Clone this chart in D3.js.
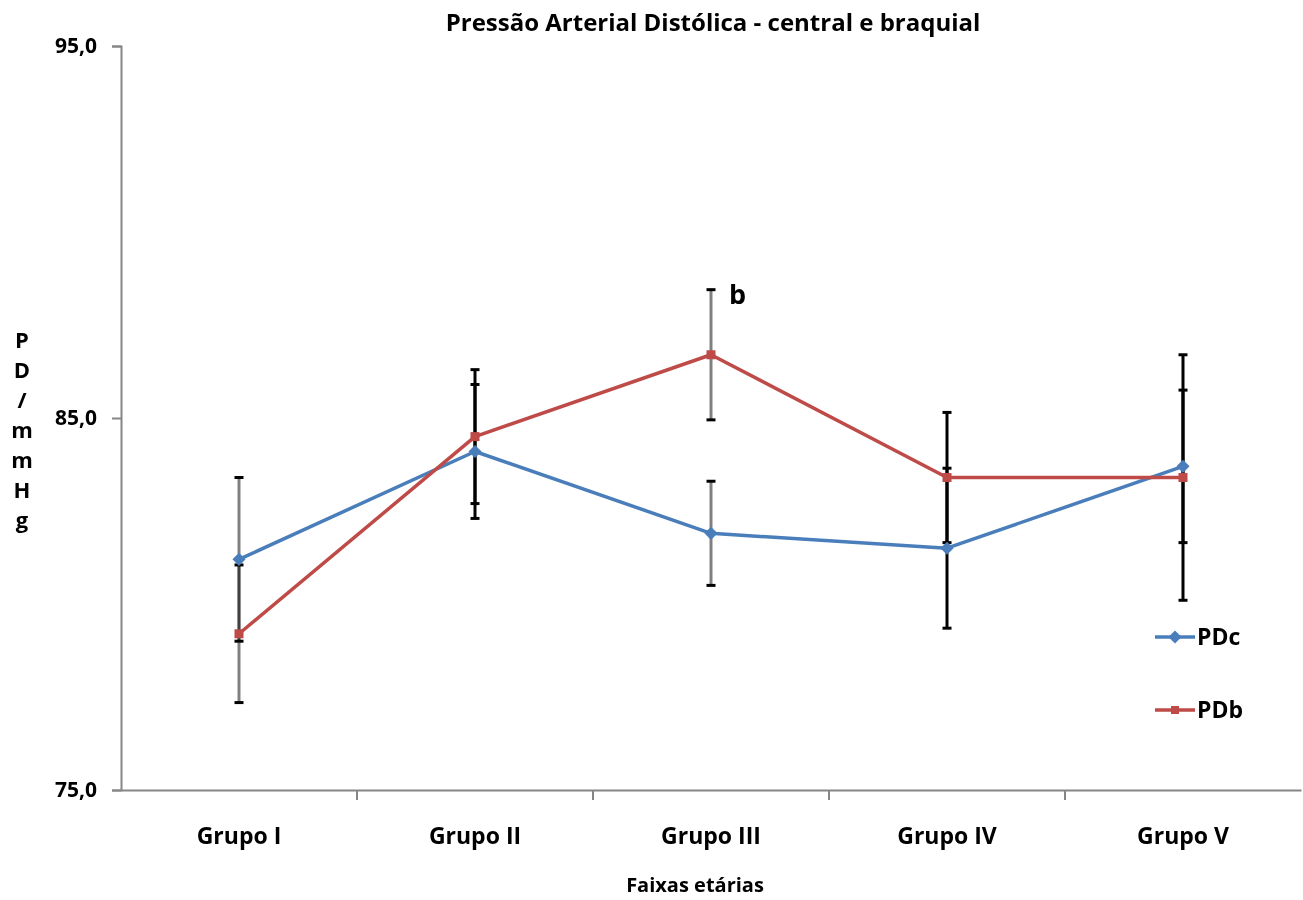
<!DOCTYPE html>
<html>
<head>
<meta charset="utf-8">
<script src="https://cdn.jsdelivr.net/npm/d3@7"></script>
<style>
  body { margin: 0; background: #fff; }
  svg { display: block; font-family: "Open Sans", "Lato", sans-serif; }
</style>
</head>
<body>
<svg id="chart" width="1303" height="900"></svg>
<script>
// Age groups and mean diastolic pressures (mmHg)
const categories = ["Grupo I", "Grupo II", "Grupo III", "Grupo IV", "Grupo V"];
const pdcValues = [81.2, 84.1, 81.9, 81.5, 83.7];
const pdbValues = [79.2, 84.5, 86.7, 83.4, 83.4];
// Error bar half-widths (mmHg)
const pdcErrors = [2.2, 1.8, 1.4, 2.15, 2.05];
const pdbErrors = [1.85, 1.8, 1.75, 1.75, 3.3];
// Error bar colours per group
const pdcErrColors = ["#808080", "#000000", "#808080", "#000000", "#000000"];
const pdbErrColors = ["#808080", "#000000", "#808080", "#000000", "#000000"];
const yTicks = [75, 85, 95];

const svg = d3.select("#chart");
const plotLeft = 121, plotRight = 1301, plotTop = 46, plotBottom = 790;
const fontFamily = '"Open Sans", "Lato", sans-serif';

const x = d3.scaleBand().domain(categories).range([plotLeft, plotRight]).padding(0);
const y = d3.scaleLinear().domain([75, 95]).range([plotBottom, plotTop]);
const cx = c => x(c) + x.bandwidth() / 2;

const fmt = v => d3.format(".1f")(v).replace(".", ",");

// Y axis
const yAxis = svg.append("g").attr("transform", `translate(${plotLeft},0)`)
  .call(d3.axisLeft(y).tickValues(yTicks).tickSize(9).tickPadding(15).tickFormat(fmt))
  .attr("font-family", fontFamily);
yAxis.select(".domain").attr("stroke", "#868686").attr("stroke-width", 2);
yAxis.selectAll(".tick line").attr("stroke", "#868686").attr("stroke-width", 2);
yAxis.selectAll(".tick text").attr("font-size", 21).attr("font-weight", "bold").attr("fill", "#000")
  .attr("dy", "0.3em");

// X axis
const xAxis = svg.append("g").attr("transform", `translate(0,${plotBottom})`)
  .call(d3.axisBottom(x).tickSize(0).tickPadding(38))
  .attr("font-family", fontFamily);
xAxis.select(".domain").attr("stroke", "#868686").attr("stroke-width", 2);
xAxis.selectAll(".tick text").attr("font-size", 23).attr("font-weight", "bold").attr("fill", "#000");
// Category boundary ticks
svg.append("g").selectAll("line")
  .data(categories.slice(1))
  .join("line")
  .attr("x1", d => x(d)).attr("x2", d => x(d))
  .attr("y1", plotBottom).attr("y2", plotBottom + 10)
  .attr("stroke", "#868686").attr("stroke-width", 2);

// Error bars (drawn beneath the lines; overlapping grey bars darken)
const errLayer = svg.append("g");
function errorBars(values, errors, colors) {
  categories.forEach((c, i) => {
    const xc = cx(c);
    const y1 = y(values[i] + errors[i]), y2 = y(values[i] - errors[i]);
    const eg = errLayer.append("g").style("mix-blend-mode", "multiply");
    eg.append("line").attr("x1", xc).attr("x2", xc).attr("y1", y1).attr("y2", y2)
      .attr("stroke", colors[i]).attr("stroke-width", 3);
    [y1, y2].forEach(yy => eg.append("line")
      .attr("x1", xc - 4.5).attr("x2", xc + 4.5).attr("y1", yy).attr("y2", yy)
      .attr("stroke", "#000").attr("stroke-width", 3));
  });
}
errorBars(pdcValues, pdcErrors, pdcErrColors);
errorBars(pdbValues, pdbErrors, pdbErrColors);

const line = d3.line().x((d, i) => cx(categories[i])).y(d => y(d));

const blue = "#4a7ebb", red = "#be4b48";

// PDc series
svg.append("path").datum(pdcValues).attr("d", line)
  .attr("fill", "none").attr("stroke", blue).attr("stroke-width", 3.5).attr("stroke-linejoin", "round");
svg.append("g").selectAll("path").data(pdcValues).join("path")
  .attr("d", d3.symbol(d3.symbolDiamond2, 110))
  .attr("transform", (d, i) => `translate(${cx(categories[i])},${y(d)})`)
  .attr("fill", blue);

// PDb series
svg.append("path").datum(pdbValues).attr("d", line)
  .attr("fill", "none").attr("stroke", red).attr("stroke-width", 3.5).attr("stroke-linejoin", "round");
svg.append("g").selectAll("rect").data(pdbValues).join("rect")
  .attr("x", (d, i) => cx(categories[i]) - 4.5).attr("y", d => y(d) - 4.5)
  .attr("width", 9).attr("height", 9).attr("fill", red);

// Significance mark
svg.append("text").attr("x", cx("Grupo III") + 18).attr("y", y(pdbValues[2] + pdbErrors[2]) + 14)
  .attr("font-size", 27).attr("font-weight", "bold").text("b");

// Title
svg.append("text").attr("x", 713).attr("y", 31).attr("text-anchor", "middle")
  .attr("font-size", 24).attr("font-weight", "bold")
  .text("Pressão Arterial Distólica - central e braquial");

// X axis title
svg.append("text").attr("x", 695).attr("y", 892).attr("text-anchor", "middle")
  .attr("font-size", 20).attr("font-weight", "bold").text("Faixas etárias");

// Stacked Y axis title
const yTitle = ["P", "D", "/", "m", "m", "H", "g"];
svg.append("g").selectAll("text").data(yTitle).join("text")
  .attr("x", 22).attr("y", (d, i) => 348 + i * 30)
  .attr("text-anchor", "middle").attr("font-size", 22).attr("font-weight", "bold")
  .text(d => d);

// Legend
const legend = [
  { name: "PDc", color: blue, y: 637, marker: "diamond" },
  { name: "PDb", color: red, y: 710, marker: "square" }
];
const lg = svg.append("g");
legend.forEach(d => {
  lg.append("line").attr("x1", 1155).attr("x2", 1195).attr("y1", d.y).attr("y2", d.y)
    .attr("stroke", d.color).attr("stroke-width", 3.5);
  if (d.marker === "diamond") {
    lg.append("path").attr("d", d3.symbol(d3.symbolDiamond2, 110))
      .attr("transform", `translate(1175,${d.y})`).attr("fill", d.color);
  } else {
    lg.append("rect").attr("x", 1171).attr("y", d.y - 4).attr("width", 8).attr("height", 8).attr("fill", d.color);
  }
  lg.append("text").attr("x", 1197).attr("y", d.y + 8).attr("font-size", 23)
    .attr("font-weight", "bold").text(d.name);
});
</script>
</body>
</html>
